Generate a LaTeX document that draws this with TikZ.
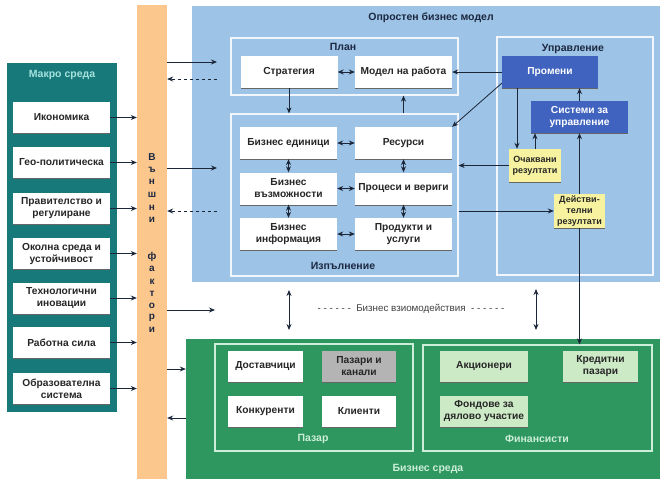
\documentclass[tikz,border=0pt]{standalone}
\usepackage{fontspec}
\setmainfont{Liberation Sans}
\usepackage{xcolor}
\usetikzlibrary{arrows.meta}
\usetikzlibrary{positioning}
\usetikzlibrary{shadows}
\definecolor{macroteal}{HTML}{17797A}
\definecolor{macrotitle}{HTML}{A6E2DE}
\definecolor{factorbar}{HTML}{FBC78D}
\definecolor{modelblue}{HTML}{9DC3E6}
\definecolor{darkblue}{HTML}{4063C0}
\definecolor{resultyellow}{HTML}{F7F2A0}
\definecolor{envgreen}{HTML}{2E965F}
\definecolor{envtitle}{HTML}{CDEFD9}
\definecolor{lightgreen}{HTML}{CDEAC7}
\definecolor{channelgrey}{HTML}{B4B4B4}
\definecolor{navytext}{HTML}{1C2840}
\definecolor{arrowcol}{HTML}{1B2638}
\tikzset{
    region/.style = {rectangle, inner sep=0pt},
    frame/.style = {rectangle, inner sep=0pt, draw=white!85!modelblue, line width=1.2pt},
    gframe/.style = {rectangle, inner sep=0pt, draw=envtitle, line width=1.2pt},
    title/.style = {font=\bfseries\fontsize{10.5}{12}\selectfont, text=navytext},
    box/.style = {rectangle, fill=white, align=center, inner sep=1pt, text=black!85,
        font=\bfseries\fontsize{10.2}{12}\selectfont, minimum width=97pt, minimum height=32pt,
        drop shadow={shadow xshift=0pt, shadow yshift=-1.3pt, fill=black!60, opacity=1}},
    blue_box/.style = {box, fill=darkblue, text=white},
    result_box/.style = {box, fill=resultyellow, minimum width=52pt, minimum height=33pt,
        inner sep=0pt, font=\bfseries\fontsize{9}{10.8}\selectfont, drop shadow={opacity=0}},
    env_box/.style = {box, minimum width=75pt, minimum height=31pt},
    letter/.style = {font=\bfseries\fontsize{10}{11}\selectfont, text=navytext, inner sep=0pt},
    conn/.style = {-{Stealth[length=6pt,width=5pt]}, line width=0.8pt, draw=arrowcol},
    twoway/.style = {{Stealth[length=6pt,width=5pt]}-{Stealth[length=6pt,width=5pt]}, line width=0.8pt, draw=arrowcol}
}
\begin{document}
\begin{tikzpicture}[x=1pt, y=-1pt]
\useasboundingbox (0,0) rectangle (663,479);

% regions
\node[region, fill=factorbar, minimum width=30pt, minimum height=474pt] (bar) at (152,242) {};
\node[region, fill=macroteal, minimum width=110pt, minimum height=349pt] (macro) at (62,237.5) {};
\node[title, text=macrotitle] (macrotitle) at (62,75) {Макро среда};
\node[region, fill=modelblue, minimum width=468pt, minimum height=276pt] (model) at (426,144) {};
\node[title] (modeltitle) at (431,18) {Опростен бизнес модел};
\node[region, fill=envgreen, minimum width=474pt, minimum height=140pt] (env) at (423,409) {};
\node[title, text=envtitle] (envtitle) at (428,469) {Бизнес среда};

% external factors
\foreach \ch [count=\i] in {В,ъ,н,ш,н,и}
    \node[letter] (fa\i) at (152,{157+12.6*(\i-1)}) {\ch};
\foreach \ch [count=\i] in {ф,а,к,т,о,р,и}
    \node[letter] (fb\i) at (152,{257+12.2*(\i-1)}) {\ch};

% macro environment
\foreach \y/\txt [count=\i] in {117.5/Икономика, 162.5/Гео-политическа,
        208.5/{Правителство и\\регулиране}, 253.5/{Околна среда и\\устойчивост},
        298/{Технологични\\иновации}, 342.5/Работна сила, 388.5/{Образователна\\система}} {
    \node[box, minimum height=31pt] (m\i) at (61.5,\y) {\txt};
    \draw[conn] (m\i.east) -- (m\i.east -| bar.west);
}

% plan
\node[frame, minimum width=227pt, minimum height=57pt] (plan) at (344.5,66.5) {};
\node[title] (plantitle) at (343,47) {План};
\node[box] (strat) at (289,72) {Стратегия};
\node[box] (opmodel) at (403.5,72) {Модел на работа};

% execution
\node[frame, minimum width=227pt, minimum height=162pt] (exec) at (344.5,195) {};
\node[title] (exectitle) at (343,266) {Изпълнение};
\node[box] (units) at (288.5,143) {Бизнес единици};
\node[box] (res) at (403.5,143) {Ресурси};
\node[box] (cap) at (288.5,188.5) {Бизнес\\възможности};
\node[box] (proc) at (403.5,188.5) {Процеси и вериги};
\node[box] (info) at (288.5,234) {Бизнес\\информация};
\node[box] (prod) at (403.5,234) {Продукти и\\услуги};

% management
\node[frame, minimum width=156pt, minimum height=238pt] (mgmt) at (575,156) {};
\node[title] (mgmttitle) at (573,49) {Управление};
\node[blue_box, minimum width=96pt] (change) at (550,72) {Промени};
\node[blue_box] (systems) at (579.5,117) {Системи за\\управление};
\node[result_box] (expect) at (535,165.5) {Очаквани\\резултати};
\node[result_box, minimum width=51pt, minimum height=34pt] (actual) at (579.5,211) {Действи-\\телни\\резултати};

% market
\node[gframe, minimum width=198pt, minimum height=107pt] (market) at (314,397.5) {};
\node[title, text=envtitle] (markettitle) at (313,439) {Пазар};
\node[env_box] (suppl) at (265.5,366.5) {Доставчици};
\node[env_box, fill=channelgrey, minimum width=74pt] (channels) at (359,366.5) {Пазари и\\канали};
\node[env_box] (compet) at (265.5,411.5) {Конкуренти};
\node[env_box, minimum width=74pt] (clients) at (359,411.5) {Клиенти};

% financiers
\node[gframe, minimum width=229pt, minimum height=106pt] (fin) at (537.5,398) {};
\node[title, text=envtitle] (fintitle) at (537,439) {Финансисти};
\node[env_box, fill=lightgreen, minimum width=88pt] (share) at (484,366.5) {Акционери};
\node[env_box, fill=lightgreen] (credit) at (600.5,366.5) {Кредитни\\пазари};
\node[env_box, fill=lightgreen, minimum width=88pt] (equity) at (484,411.5) {Фондове за\\дялово участие};

\node[font=\fontsize{9.8}{11}\selectfont, text=black!75] (interact) at (411,309)
    {- - - - - -~~Бизнес взиомодействия~~- - - - - -};

% free ends
\coordinate (in1) at (217,62);
\coordinate (out1) at (217,79);
\coordinate (in2) at (217,168);
\coordinate (out2) at (217,211);
\coordinate (in3) at (215,310);
\coordinate (upl) at (289,290);
\coordinate (dnl) at (289,330);
\coordinate (upr) at (536,289);
\coordinate (dnr) at (536,330);

% connectors
\draw[conn] (in1 -| bar.east) -- (in1);
\draw[conn, dashed] (out1) -- (out1 -| bar.east);
\draw[conn] (in2 -| bar.east) -- (in2);
\draw[conn, dashed] (out2) -- (out2 -| bar.east);
\draw[conn] (in3 -| bar.east) -- (in3);
\draw[conn] (bar.east |- 0,369) -- (env.west |- 0,369);
\draw[conn] (env.west |- 0,418) -- (bar.east |- 0,418);
\draw[twoway] (upl) -- (dnl);
\draw[twoway] (upr) -- (dnr);

\draw[twoway] (strat) -- (opmodel);
\draw[conn] (strat.south) -- (strat.south |- exec.north);
\draw[conn] (opmodel.south |- exec.north) -- (opmodel.south |- plan.south);
\draw[twoway] (units) -- (res);
\draw[twoway] (cap) -- (proc);
\draw[twoway] (info) -- (prod);
\draw[twoway] (units) -- (cap);
\draw[twoway] (cap) -- (info);
\draw[twoway] (res) -- (proc);
\draw[twoway] (proc) -- (prod);

\draw[conn] (change.west) -- (opmodel.east);
\draw[conn] ([yshift=5pt]change.south west) -- (res.north east);
\draw[conn] ([xshift=-18pt]expect.north |- change.south) -- ([xshift=-18pt]expect.north);
\draw[conn] (expect.north) -- (expect.north |- systems.south);
\draw[conn] (systems.north) -- (systems.north |- change.south);
\draw[conn] (expect.west) -- (expect.west -| exec.east);
\draw[conn] (actual.west -| exec.east) -- (actual.west);
\draw[conn] (actual.north) -- (systems.south);
\draw[conn] (actual.south) -- (actual.south |- fin.north);
\end{tikzpicture}
\end{document}
